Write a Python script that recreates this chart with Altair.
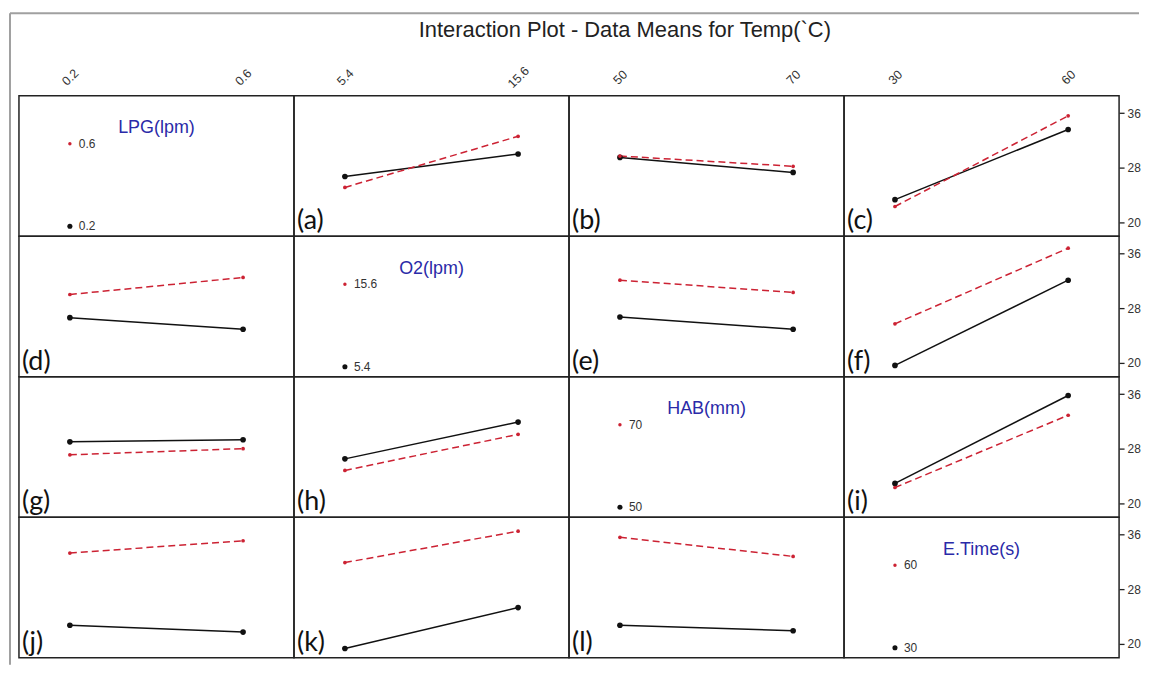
import altair as alt
import pandas as pd

# ---------------- data ----------------
factors = ["LPG(lpm)", "O2(lpm)", "HAB(mm)", "E.Time(s)"]
levels = [["0.2", "0.6"], ["5.4", "15.6"], ["50", "70"], ["30", "60"]]
panel_letters = [
    [None, "(a)", "(b)", "(c)"],
    ["(d)", None, "(e)", "(f)"],
    ["(g)", "(h)", None, "(i)"],
    ["(j)", "(k)", "(l)", None],
]
y_ticks = [20, 28, 36]
chart_title = "Interaction Plot - Data Means for Temp(`C)"

# means: black solid = low level of row factor, red dashed = high level
a_low = [26.7, 30.0]
a_high = [25.1, 32.6]
b_low = [29.5, 27.3]
b_high = [29.7, 28.2]
c_low = [23.3, 33.6]
c_high = [22.3, 35.6]
d_low = [26.6, 24.9]
d_high = [30.0, 32.5]
e_low = [26.7, 24.9]
e_high = [32.1, 30.3]
f_low = [19.6, 32.1]
f_high = [25.7, 36.8]
g_low = [29.0, 29.3]
g_high = [27.1, 28.0]
h_low = [26.5, 31.9]
h_high = [24.8, 30.1]
i_low = [22.9, 35.8]
i_high = [22.3, 32.9]
j_low = [22.7, 21.7]
j_high = [33.3, 35.1]
k_low = [19.3, 25.3]
k_high = [31.9, 36.5]
l_low = [22.7, 21.9]
l_high = [35.6, 32.8]

series = {
    "(a)": (a_low, a_high), "(b)": (b_low, b_high), "(c)": (c_low, c_high),
    "(d)": (d_low, d_high), "(e)": (e_low, e_high), "(f)": (f_low, f_high),
    "(g)": (g_low, g_high), "(h)": (h_low, h_high), "(i)": (i_low, i_high),
    "(j)": (j_low, j_high), "(k)": (k_low, k_high), "(l)": (l_low, l_high),
}

# legend entries (y in data units)
legend_title_y = 33.8
legend_high_y = 31.5
legend_low_y = 19.4

# ---------------- styling ----------------
W, H = 276, 141
XDOM = [-0.294, 1.294]
YDOM = [17.92, 38.53]
RED = "#cc2233"
BLACK = "#111111"
BLUE = "#2a2aa8"
FONT = "Liberation Sans"


def x_enc(r, c):
    if r == 0:
        lv = levels[c]
        axis = alt.Axis(
            orient="top", values=[0, 1],
            labelExpr=f"datum.value == 0 ? '{lv[0]}' : '{lv[1]}'",
            labelAngle=-45, labelAlign="center", labelBaseline="middle",
            labelPadding=19, ticks=False, tickSize=0, domain=False, grid=False,
            title=None, labelFont=FONT, labelFontSize=12.5, labelColor="#333333",
        )
    else:
        axis = None
    return alt.X("i:Q", scale=alt.Scale(domain=XDOM, nice=False, zero=False), axis=axis)


def y_enc(r, c):
    if c == 3:
        axis = alt.Axis(
            orient="right", values=y_ticks, tickSize=5, tickWidth=1.3,
            tickColor="#222222", labelPadding=3, domain=False, grid=False,
            title=None, labelFont=FONT, labelFontSize=12, labelColor="#333333",
        )
    else:
        axis = None
    return alt.Y("v:Q", scale=alt.Scale(domain=YDOM, nice=False, zero=False), axis=axis)


def panel(r, c):
    xe, ye = x_enc(r, c), y_enc(r, c)
    layers = []
    if r == c:
        df = pd.DataFrame({
            "i": [0, 0], "v": [legend_high_y, legend_low_y],
            "lab": [levels[r][1], levels[r][0]], "s": ["high", "low"],
        })
        base = alt.Chart(df).encode(x=xe, y=ye)
        layers.append(base.transform_filter("datum.s == 'high'").mark_circle(color=RED, size=12, opacity=1))
        layers.append(base.transform_filter("datum.s == 'low'").mark_circle(color=BLACK, size=26, opacity=1))
        layers.append(base.mark_text(align="left", baseline="middle", dx=9, font=FONT,
                                     fontSize=12, color="#333333").encode(text="lab:N"))
        tdf = pd.DataFrame({"i": [0.5], "v": [legend_title_y], "t": [factors[r]]})
        layers.append(alt.Chart(tdf).mark_text(align="center", baseline="middle", font=FONT,
                                               fontSize=18, color=BLUE).encode(x=xe, y=ye, text="t:N"))
    else:
        letter = panel_letters[r][c]
        low, high = series[letter]
        df = pd.DataFrame({"i": [0, 1, 0, 1], "v": low + high,
                           "s": ["low", "low", "high", "high"]})
        base = alt.Chart(df).encode(x=xe, y=ye)
        lo = base.transform_filter("datum.s == 'low'")
        hi = base.transform_filter("datum.s == 'high'")
        layers.append(lo.mark_line(color=BLACK, strokeWidth=1.5))
        layers.append(hi.mark_line(color=RED, strokeWidth=1.5, strokeDash=[7, 4]))
        layers.append(lo.mark_circle(color=BLACK, size=32, opacity=1))
        layers.append(hi.mark_circle(color=RED, size=14, opacity=1))
        ldf = pd.DataFrame({"t": [letter]})
        layers.append(alt.Chart(ldf).mark_text(align="left", baseline="bottom", font="Lato",
                                               fontSize=27, color=BLACK)
                      .encode(x=alt.value(3), y=alt.value(H - 1), text="t:N"))
    if r == 0 and c == 0:
        dummy = pd.DataFrame({"t": [chart_title]})
        layers.append(alt.Chart(dummy).mark_rule(color="#a0a0a0", strokeWidth=2)
                      .encode(x=alt.value(-9), y=alt.value(-83), y2=alt.value(571)))
        layers.append(alt.Chart(dummy).mark_rule(color="#a0a0a0", strokeWidth=2)
                      .encode(x=alt.value(-9), x2=alt.value(1124), y=alt.value(-83)))
        layers.append(alt.Chart(dummy).mark_text(align="center", baseline="middle", font=FONT,
                                                 fontSize=22, color="#222222")
                      .encode(x=alt.value(608), y=alt.value(-66), text="t:N"))
    return alt.layer(*layers).properties(width=W, height=H)


panels = [panel(r, c) for r in range(4) for c in range(4)]
chart = (
    alt.concat(*panels, columns=4, spacing=0, bounds="flush")
    .properties(padding={"left": 0, "top": 2, "right": 0, "bottom": 0}, background="white")
    .configure_view(stroke="#222222", strokeWidth=1.5)
)

chart.save("out.html", embed_options={"renderer": "svg", "actions": False})
